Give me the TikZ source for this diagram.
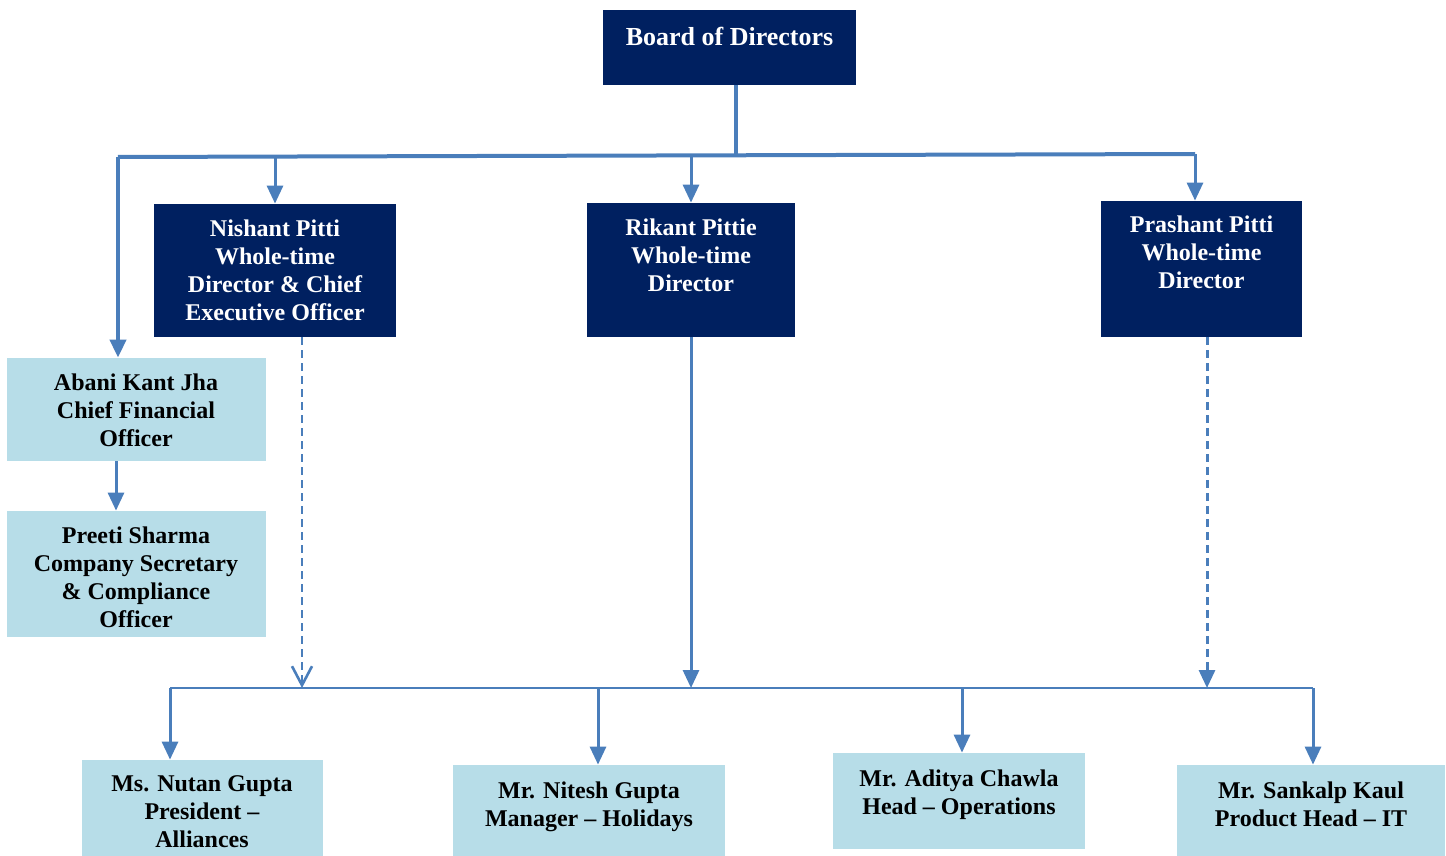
\documentclass[tikz,border=0pt]{standalone}
\usepackage{fontspec}
\setmainfont{Liberation Serif}
\usetikzlibrary{arrows.meta}
\definecolor{navy}{RGB}{0,32,96}
\definecolor{lblue}{RGB}{183,221,232}
\definecolor{lnblue}{RGB}{74,126,187}
\begin{document}
\begin{tikzpicture}[x=0.5pt,y=-0.5pt,
 dbox/.style={fill=navy, draw=none, inner sep=0pt},
 lbox/.style={fill=lblue, draw=none, inner sep=0pt},
 dtext/.style={text=white, font=\bfseries\fontsize{12}{14}\selectfont, align=center, inner sep=0pt},
 ltext/.style={text=black, font=\bfseries\fontsize{12}{14}\selectfont, align=center, inner sep=0pt},
 conn/.style={draw=lnblue, line width=1.5pt},
 topconn/.style={draw=lnblue, line width=2pt},
 botconn/.style={draw=lnblue, line width=1pt},
 arr/.style={conn, -{Triangle[width=8pt,length=9pt]}},
 dasharr/.style={conn, dash pattern=on 4pt off 2.5pt, -{Triangle[width=8pt,length=9pt]}},
 openarr/.style={conn, line width=1.4pt, dash pattern=on 4pt off 2.5pt, -{Straight Barb[width=10pt,length=9.5pt,line width=1.3pt]}}
]
\useasboundingbox (0,0) rectangle (1446,856);

% boxes
\node[dbox, minimum width=126.5pt, minimum height=37.5pt] (bod) at (729.5,47.5) {};
\node[dtext, font=\bfseries\fontsize{13}{15}\selectfont] (bodt) at (729.5,36) {Board of Directors};

\node[dbox, minimum width=121pt, minimum height=66.5pt] (nish) at (275,270.5) {};
\node[dtext] (nisht) at (275,270) {Nishant Pitti\\Whole-time\\Director \& Chief\\Executive Officer};

\node[dbox, minimum width=104pt, minimum height=67pt] (rik) at (691,270) {};
\node[dtext] (rikt) at (691,255) {Rikant Pittie\\Whole-time\\Director};

\node[dbox, minimum width=100.5pt, minimum height=68pt] (pras) at (1201.5,269) {};
\node[dtext] (prast) at (1201.5,252) {Prashant Pitti\\Whole-time\\Director};

\node[lbox, minimum width=129.5pt, minimum height=51.5pt] (abani) at (136.5,409.5) {};
\node[ltext] (abanit) at (136,410) {Abani Kant Jha\\Chief Financial\\Officer};

\node[lbox, minimum width=129.5pt, minimum height=63pt] (preeti) at (136.5,574) {};
\node[ltext] (preetit) at (136,577.5) {Preeti Sharma\\Company Secretary\\\& Compliance\\Officer};

\node[lbox, minimum width=120.5pt, minimum height=48pt] (nutan) at (202.5,808) {};
\node[ltext] (nutant) at (202,811.5) {Ms. Nutan Gupta\\President --\\Alliances};

\node[lbox, minimum width=136pt, minimum height=45.5pt] (nitesh) at (589,810.5) {};
\node[ltext] (nitesht) at (589,807) {Mr. Nitesh Gupta\\Manager -- Holidays};

\node[lbox, minimum width=126pt, minimum height=48pt] (aditya) at (959,801) {};
\node[ltext] (adityat) at (959,795) {Mr. Aditya Chawla\\Head -- Operations};

\node[lbox, minimum width=134pt, minimum height=45.5pt] (sank) at (1311,810.5) {};
\node[ltext] (sankt) at (1311,804) {Mr. Sankalp Kaul\\Product Head -- IT};

% top connectors
\coordinate (tl) at (118,157);
\coordinate (tr) at (1195,154);
\coordinate (tj) at (736,156);
\draw[topconn] (tj |- bod.south) -- (tj);
\draw[topconn] (tl) -- (tr);
\draw[arr, line width=2pt] (tl) -- (tl |- abani.north);
\draw[arr] (tl -| nish.north) -- (nish.north);
\draw[arr] (tl -| rik.north) -- (rik.north);
\draw[arr] (tr) -- (tr |- pras.north);

\draw[arr] ([xshift=-10.25pt]abani.south) -- ([xshift=-10.25pt]preeti.north);

% bottom connectors
\coordinate (bl) at (170,688);
\coordinate (br) at (1313,688);
\draw[openarr] ([xshift=13.5pt]nish.south) -- ([xshift=13.5pt]nish.south |- bl);
\draw[arr] (rik.south) -- (rik.south |- bl);
\draw[dasharr] ([xshift=2.75pt]pras.south) -- ([xshift=2.75pt]pras.south |- bl);
\draw[botconn] (bl) -- (br);
\draw[arr] (bl) -- (bl |- nutan.north);
\draw[arr] (bl -| nitesh.north) ++(4.5pt,0) coordinate (nx) -- (nx |- nitesh.north);
\draw[arr] ([xshift=1.5pt]bl -| aditya.north) -- ([xshift=1.5pt]aditya.north);
\draw[arr] (br) -- (br |- sank.north);
\end{tikzpicture}
\end{document}
